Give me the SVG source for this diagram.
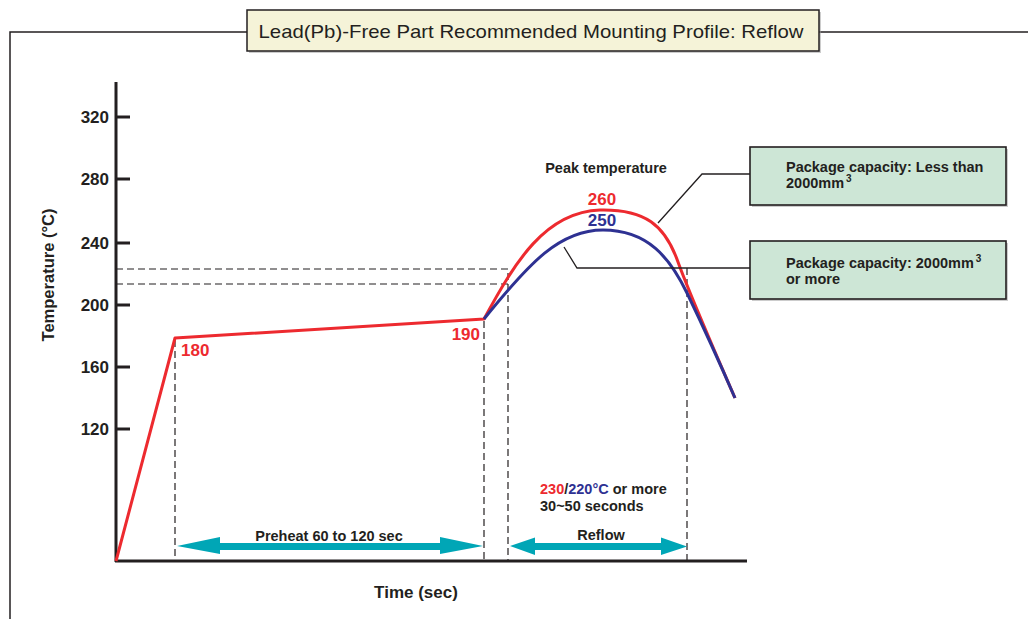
<svg xmlns="http://www.w3.org/2000/svg" width="1028" height="619" viewBox="0 0 1028 619">
<style>
text{font-family:"Liberation Sans",Arial,sans-serif;fill:#231f20}
.b{font-weight:bold}
.tick{font-size:17px;font-weight:bold;text-anchor:end}
.dash{fill:none;stroke:#231f20;stroke-width:1.2;stroke-dasharray:7,4}
.ax{stroke:#231f20;stroke-width:3;fill:none}
.lead{stroke:#231f20;stroke-width:1.3;fill:none}
.box{fill:#cde6d6;stroke:#231f20;stroke-width:1.6}
.arr{fill:#00a6b6}
.lbl{font-size:14.5px;font-weight:bold}
.red{fill:#ed2a2f}
.blue{fill:#2e3192}
</style>
<g id="frame">
<polyline points="10,619 10,32 247,32" fill="none" stroke="#231f20" stroke-width="1.5"/>
<line x1="819" y1="32" x2="1028" y2="32" stroke="#231f20" stroke-width="1.5"/>
</g>
<g id="title">
<rect x="249" y="12" width="572" height="41" fill="#9a9a9a" opacity="0.5"/>
<rect x="247" y="10" width="572" height="41" fill="#f5f3d8" stroke="#231f20" stroke-width="1.5"/>
<text x="531" y="38" font-size="19" text-anchor="middle" textLength="545" lengthAdjust="spacingAndGlyphs">Lead(Pb)-Free Part Recommended Mounting Profile: Reflow</text>
</g>
<g id="axes">
<line class="ax" x1="116" y1="82" x2="116" y2="562"/>
<line class="ax" x1="115" y1="561" x2="747" y2="561"/>
<g stroke="#231f20" stroke-width="3">
<line x1="116" y1="117" x2="130" y2="117"/>
<line x1="116" y1="179" x2="130" y2="179"/>
<line x1="116" y1="243" x2="130" y2="243"/>
<line x1="116" y1="305" x2="130" y2="305"/>
<line x1="116" y1="367" x2="130" y2="367"/>
<line x1="116" y1="429" x2="130" y2="429"/>
</g>
<text class="tick" x="109" y="123">320</text>
<text class="tick" x="109" y="185">280</text>
<text class="tick" x="109" y="249">240</text>
<text class="tick" x="109" y="311">200</text>
<text class="tick" x="109" y="373">160</text>
<text class="tick" x="109" y="435">120</text>
<text class="b" x="0" y="0" font-size="16.5" text-anchor="middle" transform="translate(54,275) rotate(-90)">Temperature (°C)</text>
<text class="b" x="416" y="598" font-size="17" text-anchor="middle">Time (sec)</text>
</g>
<g id="guides">
<polyline class="dash" points="116,269 508,269 508,561"/>
<line class="dash" x1="116" y1="284" x2="508" y2="284"/>
<line class="dash" x1="175" y1="340" x2="175" y2="561"/>
<line class="dash" x1="484" y1="321" x2="484" y2="561"/>
<line class="dash" x1="687" y1="268" x2="687" y2="561"/>
</g>
<g id="curves" fill="none" stroke-width="3" stroke-linejoin="round">
<path d="M116,561 L175,338 L484,319 C515,262 545,212 600,210 C645,209 665,225 678,262 C690,295 712,345 735,398" stroke="#ed2a2f"/>
<path d="M484,319 C530,262 560,230 603,230 C648,230 670,258 687,293 C700,320 715,352 735,398" stroke="#2e3192"/>
</g>
<g id="connectors">
<polyline class="lead" points="658,223 702,174 750,174"/>
<polyline class="lead" points="564,247 577,268 750,268"/>
</g>
<g id="values">
<text class="b red" x="181" y="356" font-size="17">180</text>
<text class="b red" x="480" y="340" font-size="17" text-anchor="end">190</text>
<text class="b red" x="602" y="205" font-size="17" text-anchor="middle">260</text>
<text class="b blue" x="602" y="226" font-size="17" text-anchor="middle">250</text>
<text class="lbl" x="606" y="173" text-anchor="middle">Peak temperature</text>
</g>
<g id="box1">
<rect x="752" y="149" width="256" height="58" fill="#9a9a9a" opacity="0.5"/>
<rect class="box" x="750" y="147" width="256" height="58"/>
<text class="lbl" x="786" y="172">Package capacity: Less than</text>
<text class="lbl" x="786" y="188">2000mm<tspan font-size="10" dx="2" dy="-6">3</tspan></text>
</g>
<g id="box2">
<rect x="752" y="243" width="256" height="58" fill="#9a9a9a" opacity="0.5"/>
<rect class="box" x="750" y="241" width="256" height="58"/>
<text class="lbl" x="786" y="268">Package capacity: 2000mm<tspan font-size="10" dx="2" dy="-6">3</tspan></text>
<text class="lbl" x="786" y="284">or more</text>
</g>
<g id="preheat">
<polygon class="arr" points="177,546 220,537 220,543 440,543 440,537 483,546 440,554 440,550 220,550 220,554"/>
<text class="lbl" x="329" y="541" text-anchor="middle">Preheat 60 to 120 sec</text>
</g>
<g id="reflow">
<polygon class="arr" points="510,546 535,537.5 535,543 661,543 661,537.5 687,546.5 661,555 661,550 535,550 535,555"/>
<text class="lbl" x="601" y="540" text-anchor="middle">Reflow</text>
<text class="lbl" x="540" y="494"><tspan class="red">230</tspan>/<tspan class="blue">220°C</tspan> or more</text>
<text class="lbl" x="540" y="511">30~50 seconds</text>
</g>
</svg>
